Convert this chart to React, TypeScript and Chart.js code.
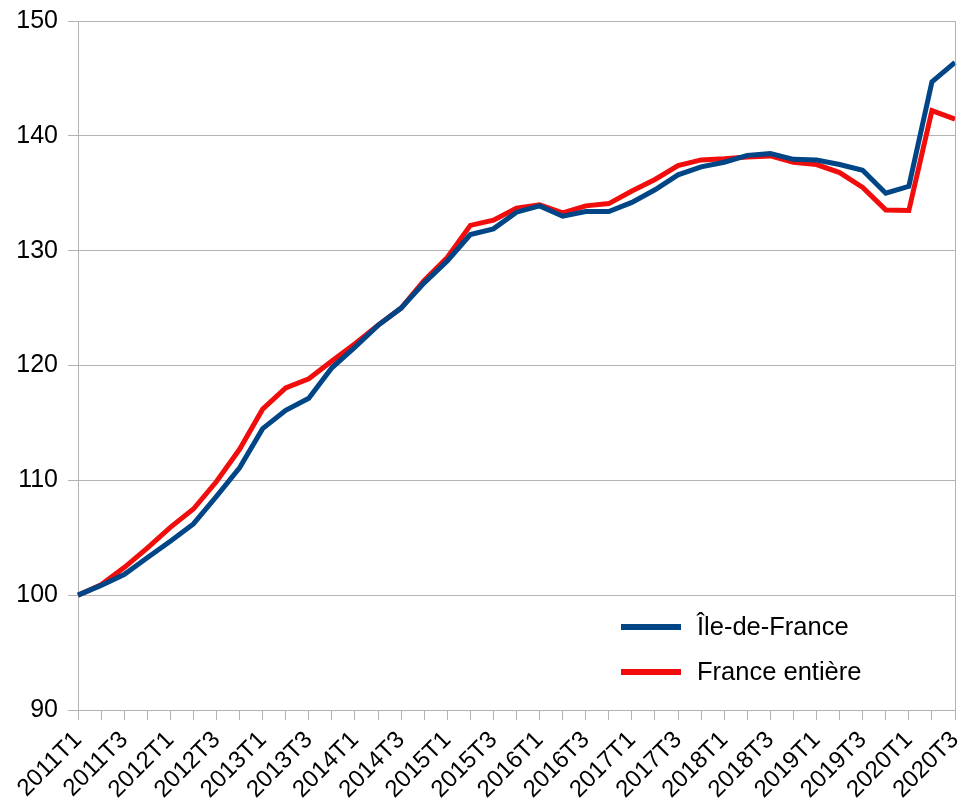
import React, { useEffect, useRef } from "react";
import { Chart, registerables } from "chart.js";

Chart.register(...registerables);

const quarters = [
  "2011T1", "2011T2", "2011T3", "2011T4",
  "2012T1", "2012T2", "2012T3", "2012T4",
  "2013T1", "2013T2", "2013T3", "2013T4",
  "2014T1", "2014T2", "2014T3", "2014T4",
  "2015T1", "2015T2", "2015T3", "2015T4",
  "2016T1", "2016T2", "2016T3", "2016T4",
  "2017T1", "2017T2", "2017T3", "2017T4",
  "2018T1", "2018T2", "2018T3", "2018T4",
  "2019T1", "2019T2", "2019T3", "2019T4",
  "2020T1", "2020T2", "2020T3",
];

const ileDeFrance = [
  100, 100.85, 101.8, 103.25, 104.7, 106.2, 108.6, 111.1, 114.5, 116.1,
  117.15, 119.8, 121.6, 123.5, 125.0, 127.2, 129.1, 131.4, 131.9, 133.35,
  133.9, 133.0, 133.4, 133.4, 134.2, 135.3, 136.6, 137.3, 137.7, 138.3,
  138.45, 137.95, 137.9, 137.5, 137.0, 135.0, 135.6, 144.7, 146.4,
];

const franceEntiere = [
  100, 100.9, 102.4, 104.1, 105.9, 107.5, 109.9, 112.7, 116.2, 118.05,
  118.85, 120.4, 121.9, 123.5, 125.0, 127.4, 129.4, 132.2, 132.65, 133.7,
  134.0, 133.3, 133.9, 134.1, 135.2, 136.2, 137.4, 137.9, 138.0, 138.15,
  138.25, 137.7, 137.5, 136.8, 135.5, 133.55, 133.5, 142.2, 141.45,
];

const seriesNames = ["Île-de-France", "France entière"];
const seriesColors = ["#004586", "#f20d0d"];

const FONT = "'Liberation Sans', Arial, sans-serif";
const GRID = "#b3b3b3";

const frameAndLegend = {
  id: "frameAndLegend",
  afterDatasetsDraw(chart: any) {
    const { ctx, chartArea } = chart;
    ctx.save();
    ctx.strokeStyle = GRID;
    ctx.lineWidth = 1;
    ctx.beginPath();
    ctx.moveTo(Math.round(chartArea.right) + 0.5, chartArea.top);
    ctx.lineTo(Math.round(chartArea.right) + 0.5, chartArea.bottom);
    ctx.stroke();

    const x0 = 621;
    const rows = [627, 672];
    chart.data.datasets.forEach((ds: any, i: number) => {
      const y = rows[i];
      ctx.strokeStyle = ds.borderColor;
      ctx.lineWidth = 6;
      ctx.lineCap = "butt";
      ctx.beginPath();
      ctx.moveTo(x0, y);
      ctx.lineTo(x0 + 60, y);
      ctx.stroke();
      ctx.fillStyle = "#000";
      ctx.font = `25.5px ${FONT}`;
      ctx.textBaseline = "middle";
      ctx.textAlign = "left";
      ctx.fillText(ds.label, x0 + 76, y + 1);
    });
    ctx.restore();
  },
};

export default function App() {
  const ref = useRef<HTMLCanvasElement>(null);

  useEffect(() => {
    if (!ref.current) return;
    const chart = new Chart(ref.current, {
      type: "line",
      data: {
        labels: quarters,
        datasets: [
          {
            label: seriesNames[0],
            data: ileDeFrance,
            borderColor: seriesColors[0],
            backgroundColor: seriesColors[0],
            borderWidth: 5,
            pointRadius: 0,
            tension: 0,
          },
          {
            label: seriesNames[1],
            data: franceEntiere,
            borderColor: seriesColors[1],
            backgroundColor: seriesColors[1],
            borderWidth: 5,
            pointRadius: 0,
            tension: 0,
          },
        ],
      },
      options: {
        animation: false,
        responsive: false,
        maintainAspectRatio: false,
        layout: { padding: { top: 21, right: 5, left: 0, bottom: 0 } },
        plugins: {
          legend: { display: false },
          tooltip: { enabled: false },
        },
        scales: {
          x: {
            offset: false,
            afterFit: (s: any) => {
              s.height = 97;
              s.paddingLeft = 0;
              s.paddingRight = 0;
            },
            border: { color: GRID, width: 1 },
            grid: {
              drawOnChartArea: false,
              drawTicks: true,
              tickLength: 10,
              color: GRID,
            },
            ticks: {
              autoSkip: false,
              maxRotation: 45,
              minRotation: 45,
              padding: 6,
              color: "#000",
              font: { family: FONT, size: 24 },
              callback: (_v: any, i: number) => (i % 2 === 0 ? quarters[i] : ""),
            },
          },
          y: {
            min: 90,
            max: 150,
            afterFit: (s: any) => {
              s.width = 78;
              s.paddingTop = 0;
              s.paddingBottom = 0;
            },
            border: { color: GRID, width: 1 },
            grid: { color: GRID, tickLength: 10 },
            ticks: {
              stepSize: 10,
              padding: 10,
              color: "#000",
              font: { family: FONT, size: 25 },
            },
          },
        },
      },
      plugins: [frameAndLegend],
    });
    return () => chart.destroy();
  }, []);

  return (
    <div style={{ position: "fixed", left: 0, top: 0, width: 960, height: 807, background: "#fff" }}>
      <canvas ref={ref} width={960} height={807} style={{ width: 960, height: 807 }} />
    </div>
  );
}
